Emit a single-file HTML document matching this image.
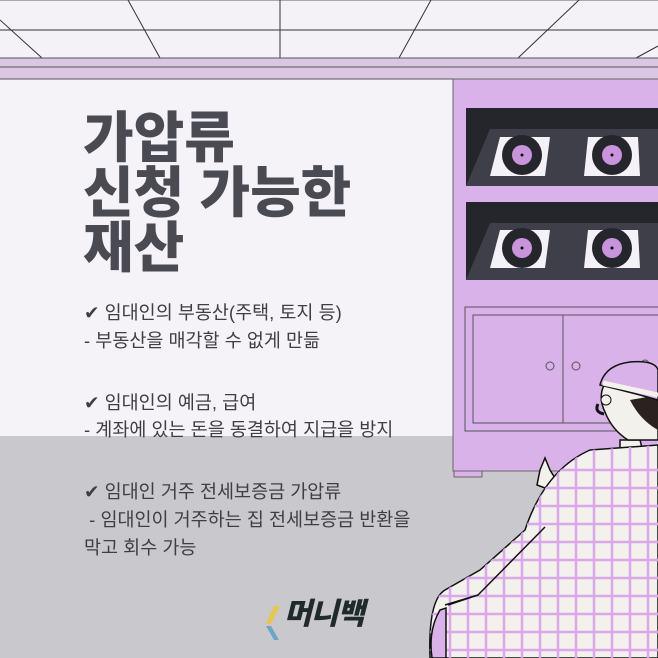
<!DOCTYPE html>
<html><head><meta charset="utf-8"><style>
body{margin:0;width:658px;height:658px;overflow:hidden;background:#f6f3f8;position:relative;font-family:"Liberation Sans","Noto Sans CJK KR",sans-serif}
.t{position:absolute;left:83px;color:#4a4a52;font-weight:900;font-size:55px;letter-spacing:0px;line-height:1}
.b{position:absolute;left:84px;color:#3e3e44;font-size:18.5px;line-height:1;white-space:nowrap}
</style></head><body>
<svg width="658" height="658" style="position:absolute;left:0;top:0">
<rect x="0" y="0" width="658" height="58" fill="#f4f2f6"/>
<g stroke="#333" stroke-width="1">
<line x1="0" y1="0.5" x2="658" y2="0.5" stroke="#aaa"/>
<line x1="0" y1="30" x2="658" y2="30"/>
<line x1="280" y1="0" x2="280" y2="58"/>
<line x1="0" y1="20" x2="42" y2="58"/>
<line x1="128" y1="0" x2="160" y2="58"/>
<line x1="431" y1="0" x2="399" y2="58"/>
<line x1="579" y1="0" x2="518" y2="58"/>
<line x1="658" y1="46" x2="636" y2="58"/>
</g>
<rect x="0" y="58" width="658" height="21" fill="#dbc6e3"/>
<line x1="0" y1="58" x2="658" y2="58" stroke="#555"/>
<line x1="0" y1="67" x2="658" y2="67" stroke="#555"/>
<line x1="0" y1="79" x2="658" y2="79" stroke="#555"/>
<rect x="0" y="436" width="658" height="222" fill="#c9c8cd"/>
<rect x="453" y="79" width="210" height="392" fill="#d9b2ea" stroke="#666"/>
<rect x="454" y="471" width="28" height="6" fill="#d9b2ea" stroke="#666"/>
<rect x="466" y="108" width="200" height="78" fill="#25262c"/>
<polygon points="490,129 666,129 666,186 466,186" fill="#3e3f48"/>
<rect x="466" y="202" width="200" height="78" fill="#25262c"/>
<polygon points="490,223 666,223 666,280 466,280" fill="#3e3f48"/>
<g>
<polygon points="500,137 550,137 545,176 490,176" fill="#f4f2f6"/>
<circle cx="522" cy="155" r="20" fill="#25262c"/><circle cx="522" cy="155" r="10" fill="#c895dc"/><circle cx="522" cy="155" r="1.5" fill="#000"/>
<polygon points="588,137 638,137 640,176 584,176" fill="#f4f2f6"/>
<circle cx="612" cy="155" r="20" fill="#25262c"/><circle cx="612" cy="155" r="10" fill="#c895dc"/><circle cx="612" cy="155" r="1.5" fill="#000"/>
<polygon points="500,230 550,230 545,268 490,268" fill="#f4f2f6"/>
<circle cx="522" cy="248" r="20" fill="#25262c"/><circle cx="522" cy="248" r="10" fill="#c895dc"/><circle cx="522" cy="248" r="1.5" fill="#000"/>
<polygon points="588,230 638,230 640,268 584,268" fill="#f4f2f6"/>
<circle cx="612" cy="248" r="20" fill="#25262c"/><circle cx="612" cy="248" r="10" fill="#c895dc"/><circle cx="612" cy="248" r="1.5" fill="#000"/>
</g>
<rect x="465" y="307" width="200" height="124" fill="none" stroke="#555"/>
<rect x="473" y="315" width="200" height="108" fill="none" stroke="#555"/>
<line x1="563" y1="315" x2="563" y2="423" stroke="#555"/>
<g fill="none" stroke="#555"><circle cx="550" cy="366" r="4"/><circle cx="576" cy="366" r="4"/><circle cx="645" cy="364" r="4"/></g>
<path d="M620,440 L640,440 L645,460 L620,460Z" fill="#f3f1ec" stroke="#111" stroke-width="1.5"/>
<path d="M604,385 Q598,398 605,412 Q612,430 628,440 L658,440 L658,388Z" fill="#f3f1ec" stroke="#111" stroke-width="1.5"/>
<path d="M630,400 Q640,420 658,430 L658,395Z" fill="#2b2220"/>
<path d="M598,404 q-4,8 6,10" fill="none" stroke="#111" stroke-width="3"/>
<circle cx="606" cy="400" r="5" fill="#f3f1ec" stroke="#111"/>
<path d="M600,385 Q605,365 630,362 Q655,360 658,370 L658,400 Q630,392 600,385Z" fill="#d9b2ea" stroke="#111" stroke-width="1.5"/>
<path d="M603,383 Q630,389 658,395" stroke="#f3f1ec" stroke-width="5" fill="none"/>
<path d="M540,470 L545,458 L550,470 L555,478 L545,488 L537,485Z" fill="#f3f1ec" stroke="#111" stroke-width="1.5"/>
<path d="M590,450 L658,445 L658,658 L430,658 Q428,600 445,590 L480,570 L525,530 Q545,470 590,450Z" fill="#f3f1ec" stroke="#111" stroke-width="1.5"/>
<clipPath id="c"><path d="M590,450 L658,445 L658,658 L430,658 Q428,600 445,590 L480,570 L525,530 Q545,470 590,450Z"/></clipPath>
<g stroke="#d9a7ea" stroke-width="2.5" clip-path="url(#c)">
<line x1="450" y1="0" x2="450" y2="658"/><line x1="468" y1="0" x2="468" y2="658"/><line x1="486" y1="0" x2="486" y2="658"/><line x1="504" y1="0" x2="504" y2="658"/><line x1="522" y1="0" x2="522" y2="658"/><line x1="540" y1="0" x2="540" y2="658"/><line x1="558" y1="0" x2="558" y2="658"/><line x1="576" y1="0" x2="576" y2="658"/><line x1="594" y1="0" x2="594" y2="658"/><line x1="612" y1="0" x2="612" y2="658"/><line x1="630" y1="0" x2="630" y2="658"/><line x1="648" y1="0" x2="648" y2="658"/>
<line x1="0" y1="470" x2="658" y2="470"/><line x1="0" y1="488" x2="658" y2="488"/><line x1="0" y1="506" x2="658" y2="506"/><line x1="0" y1="524" x2="658" y2="524"/><line x1="0" y1="542" x2="658" y2="542"/><line x1="0" y1="560" x2="658" y2="560"/><line x1="0" y1="578" x2="658" y2="578"/><line x1="0" y1="596" x2="658" y2="596"/><line x1="0" y1="614" x2="658" y2="614"/><line x1="0" y1="632" x2="658" y2="632"/><line x1="0" y1="650" x2="658" y2="650"/>
</g>
<path d="M448,605 L478,595 L545,527 M478,595 L445,605" fill="none" stroke="#111" stroke-width="1.5"/>
<path d="M440,610 Q428,630 432,658 L446,658 L446,608Z" fill="#d9b2ea" stroke="#111" stroke-width="1.5"/>
<polygon points="274,606 280,606 271,624 266,624" fill="#e5c84a"/>
<polygon points="266,626 271,626 279,640 274,640" fill="#6aa6c8"/>
</svg>
<div class="t" style="top:111px">가압류</div>
<div class="t" style="top:166px">신청 가능한</div>
<div class="t" style="top:221px">재산</div>
<div class="b" style="top:304px">✔ 임대인의 부동산(주택, 토지 등)</div>
<div class="b" style="top:332px">- 부동산을 매각할 수 없게 만듦</div>
<div class="b" style="top:394px">✔ 임대인의 예금, 급여</div>
<div class="b" style="top:421px">- 계좌에 있는 돈을 동결하여 지급을 방지</div>
<div class="b" style="top:483px">✔ 임대인 거주 전세보증금 가압류</div>
<div class="b" style="top:511px">&nbsp;- 임대인이 거주하는 집 전세보증금 반환을</div>
<div class="b" style="top:539px">막고 회수 가능</div>
<div style="position:absolute;left:284px;top:600px;font-size:30px;font-weight:900;font-style:italic;color:#1f2a2a;letter-spacing:-1px;line-height:1">머니백</div>
</body></html>
